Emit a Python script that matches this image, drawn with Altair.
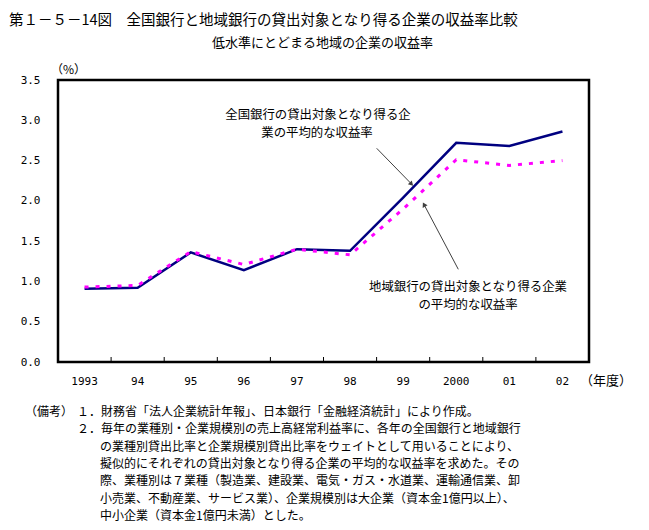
import altair as alt
import pandas as pd

# ---- data ----
years = ["1993", "94", "95", "96", "97", "98", "99", "2000", "01", "02"]
national = [0.91, 0.92, 1.36, 1.14, 1.40, 1.38, 2.04, 2.72, 2.68, 2.86]
regional = [0.93, 0.95, 1.37, 1.21, 1.40, 1.33, 1.90, 2.51, 2.44, 2.50]
y_ticks = [0.0, 0.5, 1.0, 1.5, 2.0, 2.5, 3.0, 3.5]

title_text = "第１－５－14図　全国銀行と地域銀行の貸出対象となり得る企業の収益率比較"
subtitle_text = "低水準にとどまる地域の企業の収益率"
ann1 = ["全国銀行の貸出対象となり得る企", "業の平均的な収益率"]
ann2 = ["地域銀行の貸出対象となり得る企業", "の平均的な収益率"]
notes = [
    "１．財務省「法人企業統計年報」、日本銀行「金融経済統計」により作成。",
    "２．毎年の業種別・企業規模別の売上高経常利益率に、各年の全国銀行と地域銀行",
    "の業種別貸出比率と企業規模別貸出比率をウェイトとして用いることにより、",
    "擬似的にそれぞれの貸出対象となり得る企業の平均的な収益率を求めた。その",
    "際、業種別は７業種（製造業、建設業、電気・ガス・水道業、運輸通信業、卸",
    "小売業、不動産業、サービス業）、企業規模別は大企業（資本金1億円以上）、",
    "中小企業（資本金1億円未満）とした。",
]

df_nat = pd.DataFrame({"year": years, "value": national})
df_reg = pd.DataFrame({"year": years, "value": regional})
df_years = pd.DataFrame({"year": years})
one = pd.DataFrame({"a": [0]})

W, H = 531, 282
JP = "Noto Sans CJK JP"
MONO = "DejaVu Sans Mono"

xscale = alt.Scale(type="band", paddingInner=0, paddingOuter=0)
x_axis = alt.Axis(title=None, labelAngle=0, ticks=False, domain=False,
                  labelPadding=13, labelFont=MONO, labelFontSize=11,
                  labelColor="black")
x_enc = alt.X("year:O", sort=years, scale=xscale, bandPosition=0.5, axis=x_axis)
y_enc = alt.Y(
    "value:Q", scale=alt.Scale(domain=[0, 3.5], nice=False, zero=True),
    axis=alt.Axis(title=None, values=y_ticks, format=".1f", ticks=False,
                  domain=False, grid=False, labelPadding=18, labelFont=MONO,
                  labelFontSize=11, labelColor="black"),
)

nat_line = alt.Chart(df_nat).mark_line(color="#000080", strokeWidth=2.5).encode(x=x_enc, y=y_enc)
reg_line = alt.Chart(df_reg).mark_line(color="#FF00FF", strokeWidth=3, strokeDash=[4, 7]).encode(x=x_enc, y=y_enc)

ticks = alt.Chart(df_years).mark_rule(color="black", strokeWidth=1).encode(
    x=alt.X("year:O", sort=years, scale=xscale, bandPosition=0, axis=x_axis),
    y=alt.value(H), y2=alt.value(H - 5),
)


def txt(s, x, y, size=12, align="left", font=JP):
    return alt.Chart(one).mark_text(
        text=s, align=align, baseline="middle", fontSize=size, font=font, color="black"
    ).encode(x=alt.value(x), y=alt.value(y))


def arrow(x1, y1, x2, y2, angle):
    line = alt.Chart(one).mark_rule(color="#404040", strokeWidth=1).encode(
        x=alt.value(x1), y=alt.value(y1), x2=alt.value(x2), y2=alt.value(y2))
    head = alt.Chart(one).mark_point(shape="triangle-up", filled=True, size=30,
                                     color="#404040", angle=angle, opacity=1).encode(
        x=alt.value(x2), y=alt.value(y2))
    return [line, head]


layers = [nat_line, reg_line, ticks]
layers += [txt(title_text, -49, -59.5, 14.5)]
layers += [txt(subtitle_text, 264.5, -37, 13, "center")]
layers += [txt("（%）", 10.5, -10, 12, "center")]
layers += [txt(ann1[0], 260, 35, 12.4, "center"), txt(ann1[1], 259, 52.5, 12.4, "center")]
layers += [txt(ann2[0], 410, 207, 12.4, "center"), txt(ann2[1], 410, 224.5, 12.4, "center")]
layers += arrow(318.7, 68.3, 353.5, 104, 136)
layers += arrow(400.3, 189.3, 366, 124.5, 332)
layers += [txt("（年度）", 548, 301, 13, "center")]
layers += [txt("（備考）", -33, 332, 12)]
note_pos = [(19, 332), (19, 349), (42, 367), (42, 384), (42, 401), (42, 419), (42, 436)]
for s, (nx, ny) in zip(notes, note_pos):
    layers.append(txt(s, nx, ny, 12))

chart = alt.layer(*layers).properties(
    width=W, height=H,
    padding={"left": 50, "top": 72, "right": 52, "bottom": 160},
    autosize=alt.AutoSizeParams(type="none"),
    background="white",
).configure_view(stroke="black", strokeWidth=2.5)

chart.save("out.html", embed_options={"renderer": "svg", "actions": False})
